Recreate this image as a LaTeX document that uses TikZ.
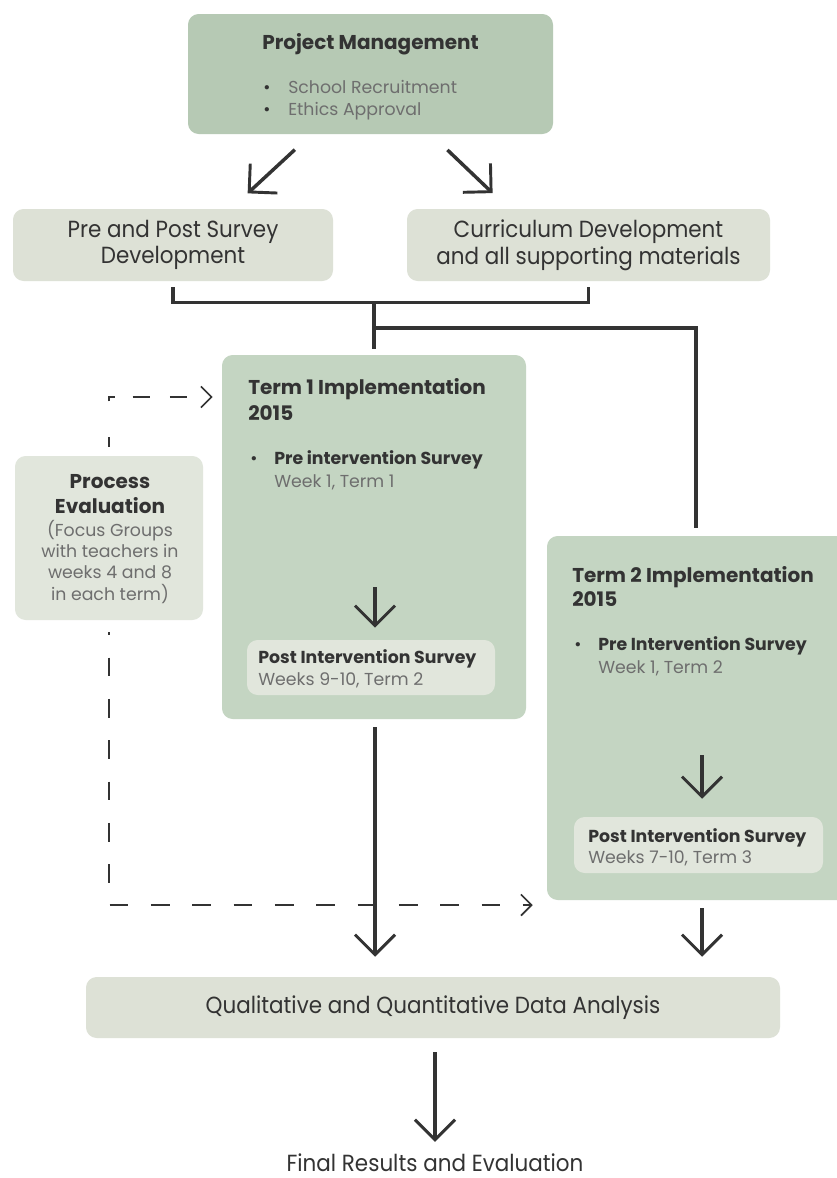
\documentclass[tikz,border=0pt]{standalone}
\usepackage{fontspec}
\setmainfont{Poppins}
\newfontfamily\narrowfont{Poppins}[FakeStretch=0.92]
\usetikzlibrary{arrows.meta,positioning}
\definecolor{sage}{HTML}{B6C9B4}
\definecolor{termgreen}{HTML}{C4D5C2}
\definecolor{palegreen}{HTML}{DDE1D6}
\definecolor{mistgreen}{HTML}{E1E6DC}
\definecolor{ink}{HTML}{333333}
\definecolor{greyink}{HTML}{6E6E6E}
\newcommand{\px}{0.75pt}
\tikzset{
  panel/.style={rounded corners=8pt,inner sep=0pt,draw=none},
  title/.style={anchor=base west,inner sep=0pt,text=ink,font=\bfseries\fontsize{15}{18.5}\selectfont},
  item/.style={anchor=base west,inner sep=0pt,text=ink,font=\bfseries\fontsize{13}{16}\selectfont},
  note/.style={anchor=base west,inner sep=0pt,text=greyink,font=\fontsize{13}{16}\selectfont},
  plain/.style={inner sep=0pt,text=ink,font=\narrowfont\fontsize{17.5}{20}\selectfont},
  link/.style={draw=ink,line width=2.6pt},
  flow/.style={draw=ink,line width=2.6pt,-{Straight Barb[length=15pt,width=30pt,line width=2.2pt]}},
  feedback/.style={draw=ink,line width=1.2pt,-{Straight Barb[length=8pt,width=16pt,line width=1.2pt]}}
}
\begin{document}
\begin{tikzpicture}[x=0.75pt,y=-0.75pt]
    \clip (0,0) rectangle (837,1178);
    \fill[white] (0,0) rectangle (837,1178);
    % boxes
    \node[panel,fill=sage,minimum width=365*\px,minimum height=120*\px] (pm) at (370.5,74) {};
    \node[panel,plain,fill=palegreen,minimum width=320*\px,minimum height=72*\px,align=center] (pp) at (173,245) {Pre and Post Survey\\Development};
    \node[panel,plain,fill=palegreen,minimum width=363*\px,minimum height=72*\px,align=center] (cd) at (588.5,245) {Curriculum Development\\and all supporting materials};
    \node[panel,fill=termgreen,minimum width=304*\px,minimum height=364*\px] (t1) at (374,537) {};
    \node[panel,fill=termgreen,minimum width=310*\px,minimum height=364*\px] (t2) at (702,718) {};
    \node[panel,fill=mistgreen,minimum width=248*\px,minimum height=55*\px] (p1) at (371,667.5) {};
    \node[panel,fill=mistgreen,minimum width=249*\px,minimum height=56*\px] (p2) at (698.5,845) {};
    \node[panel,fill=mistgreen,minimum width=188*\px,minimum height=164*\px] (pe) at (109,538) {};
    \node[panel,plain,fill=palegreen,minimum width=694*\px,minimum height=61*\px] (qa) at (433,1007.5) {Qualitative and Quantitative Data Analysis};
    \node[plain] (fr) at (435,1163) {Final Results and Evaluation};
    % texts
    \node[title] (pmtitle) at (262,49) {Project Management};
    \foreach \y/\name/\txt in {93/pmone/School Recruitment, 115/pmtwo/Ethics Approval}{
        \node[note,text=ink] at (263,\y) {\textbullet};
        \node[note] (\name) at (288,\y) {\txt};
    }
    \node[title] (t1title) at (248,394) {Term 1 Implementation};
    \node[title] (t1year) at (248,420) {2015};
    \node[note,text=ink] at (250,464) {\textbullet};
    \node[item] (pre1) at (274,464) {Pre intervention Survey};
    \node[note] (pre1week) at (274,487) {Week 1, Term 1};
    \node[item] (post1) at (258,663) {Post Intervention Survey};
    \node[note] (post1week) at (258,685) {Weeks 9-10, Term 2};
    \node[title] (t2title) at (572,582) {Term 2 Implementation};
    \node[title] (t2year) at (572,606) {2015};
    \node[note,text=ink] at (574,650) {\textbullet};
    \node[item] (pre2) at (598,650) {Pre Intervention Survey};
    \node[note] (pre2week) at (598,673) {Week 1, Term 2};
    \node[item] (post2) at (588,842) {Post Intervention Survey};
    \node[note] (post2week) at (588,863) {Weeks 7-10, Term 3};
    \node[title,anchor=base,align=center] (pehead) at (110,513) {Process\\Evaluation};
    \node[note,anchor=base,align=center] (petext) at (110,600) {(Focus Groups\\with teachers in\\weeks 4 and 8\\in each term)};
    % connectors
    \draw[flow,shorten <=17pt,shorten >=17pt] ([xshift=-59*\px]pm.south) -- ([xshift=58*\px]pp.north);
    \draw[flow,shorten <=17pt,shorten >=17pt] ([xshift=60.5*\px]pm.south) -- ([xshift=-79.5*\px]cd.north);
    \draw[link] ([yshift=-6*\px]pp.south) -- ++(0,15) -| ([yshift=-6*\px]cd.south);
    \draw[link,shorten >=6*\px] (t1.north |- 0,301) -- (t1.north);
    \draw[link] (t1.north |- 0,328) -| ([xshift=-6*\px,yshift=8*\px]t2.north);
    \coordinate (t1mid) at (375,587);
    \coordinate (t2mid) at (702,755);
    \draw[flow,shorten >=12*\px] (t1mid) -- (p1.north -| t1mid);
    \draw[flow,shorten >=18*\px] (t2mid) -- (p2.north -| t2mid);
    \draw[flow,shorten <=8*\px,shorten >=20*\px] (t1.south -| t1mid) -- (qa.north -| t1mid);
    \draw[flow,shorten <=8*\px,shorten >=20*\px] (t2.south) -- (qa.north -| t2.south);
    \draw[flow,shorten <=14*\px,shorten >=12*\px] (qa.south -| fr) -- (fr.north);
    % feedback from the process evaluation
    \draw[feedback,dash pattern=on 7pt off 27pt on 7.5pt off 13.5pt on 13pt off 15pt on 13pt off 40pt,shorten >=9*\px]
        ([yshift=9*\px]pe.north) |- (t1.west |- 0,397);
    \draw[feedback,dash pattern=on 14pt off 17pt,dash phase=12pt,shorten >=14*\px] ([yshift=-12*\px]pe.south) |- (t2.west |- 0,905);
\end{tikzpicture}
\end{document}
